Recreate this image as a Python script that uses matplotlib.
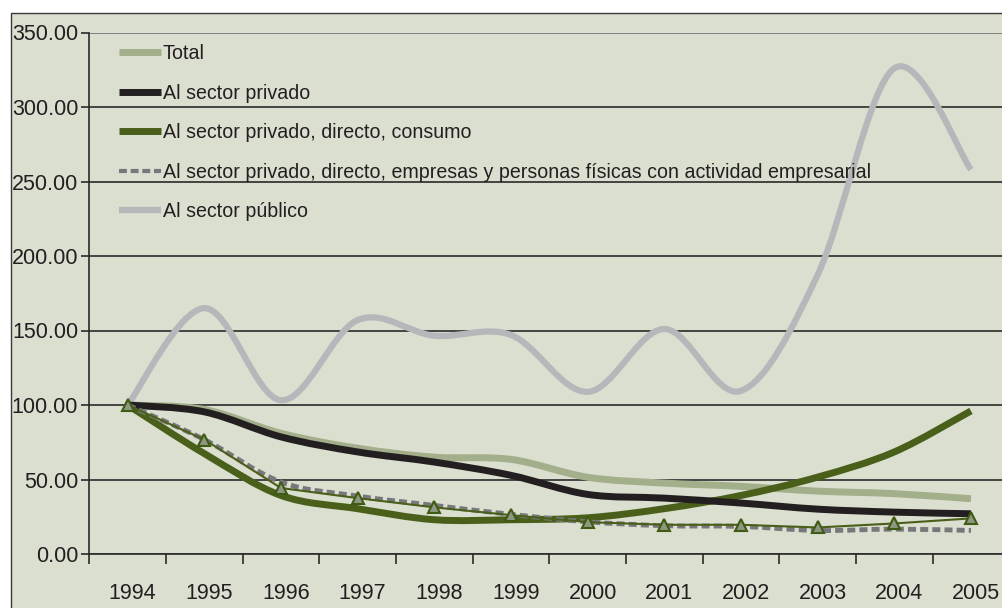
import matplotlib
matplotlib.use("Agg")
import matplotlib.pyplot as plt
import matplotlib.transforms as mtransforms
from matplotlib.path import Path
from matplotlib.patches import PathPatch, Rectangle
from matplotlib.lines import Line2D
import numpy as np

years = ["1994", "1995", "1996", "1997", "1998", "1999",
         "2000", "2001", "2002", "2003", "2004", "2005"]

total = [100, 97, 81, 71, 65, 63.5, 51.5, 47.6, 45.4, 42.2, 40.5, 37.1]
privado = [100, 95.4, 78.6, 68.5, 61.7, 52.8, 40, 37.5, 34.2, 30.1, 28.1, 27]
consumo = [100, 67.4, 39.3, 30.4, 23, 23, 24.3, 30.4, 39.3, 51.6, 68.5, 96]
empresas = [100, 76.8, 48.3, 38.9, 32.6, 26.6, 21.6, 19, 18.5, 15.8, 16.7, 15.8]
publico = [100, 165, 103.2, 157, 146.5, 147, 108.8, 151, 109.5, 187.3, 326, 258]
marcas = [100, 76.8, 44.3, 37.5, 31.3, 26.1, 21.4, 19.6, 19.6, 17.8, 20.5, 23.9]

labels = ["Total", "Al sector privado", "Al sector privado, directo, consumo",
          "Al sector privado, directo, empresas y personas físicas con actividad empresarial",
          "Al sector público"]

BG = "#dadfcf"
FONT = ["Liberation Sans", "DejaVu Sans"]


def smooth_path(xs, ys):
    # bezier curve through the points, like excel's smoothed lines
    pts = np.column_stack([xs, ys]).astype(float)
    n = len(pts)
    verts = [pts[0]]
    codes = [Path.MOVETO]
    for i in range(n - 1):
        p0 = pts[i - 1] if i > 0 else pts[i]
        p1 = pts[i]
        p2 = pts[i + 1]
        p3 = pts[i + 2] if i + 2 < n else pts[i + 1]
        c1 = p1 + (p2 - p0) / 6.0
        c2 = p2 - (p3 - p1) / 6.0
        verts += [c1, c2, p2]
        codes += [Path.CURVE4] * 3
    return Path(verts, codes)


fig = plt.figure(figsize=(10.02, 6.08), dpi=100)
fig.patch.set_facecolor("white")
frame = Rectangle((11 / 1002, -0.01), 1.0, (608 - 12.7) / 608 + 0.01,
                  transform=fig.transFigure, facecolor=BG,
                  edgecolor="#3a3a3a", linewidth=1.0, zorder=-10)
fig.add_artist(frame)

ax = fig.add_axes([89.3 / 1002, 54 / 608, 920 / 1002, 521.5 / 608])
ax.set_facecolor(BG)
x = np.arange(len(years))

dash = (0, (1.65, 0.85))
series = [
    (total, "#a3ae8a", 5.0, "-"),
    (privado, "#231f20", 5.0, "-"),
    (consumo, "#4a5f1a", 5.0, "-"),
    (empresas, "#77787c", 3.5, dash),
    (publico, "#b6b7bb", 4.5, "-"),
]
zorders = [3, 4, 3, 5, 3]
for (vals, col, lw, ls), z in zip(series, zorders):
    ax.add_patch(PathPatch(smooth_path(x, vals), fill=False, edgecolor=col,
                           linewidth=lw, linestyle=ls, capstyle="butt",
                           joinstyle="round", zorder=z))

ax.plot(x, marcas, color="#4a5f1a", linewidth=1.5, marker="^", markersize=9,
        markerfacecolor="#8d9784", markeredgecolor="#3f5a12",
        markeredgewidth=1.5, zorder=6)

ax.set_xlim(-0.5, 11.5)
ax.set_ylim(0, 350)
ax.set_yticks(np.arange(0, 351, 50))
ax.set_yticklabels([f"{v:.2f}" for v in np.arange(0, 351, 50)])
ax.set_xticks(x)
ax.set_xticklabels(years)
ax.set_xticks(np.arange(-0.5, 12, 1), minor=True)
ax.tick_params(axis="x", which="major", length=0, pad=21)
ax.tick_params(axis="x", which="minor", length=7, width=1.2, color="#2a2a2a")
ax.tick_params(axis="y", length=6, width=1.2, color="#2a2a2a", pad=2)
shift = mtransforms.ScaledTranslation(5 / 100, 0, fig.dpi_scale_trans)
for lab in ax.get_xticklabels():
    lab.set_transform(lab.get_transform() + shift)
for lab in ax.get_xticklabels() + ax.get_yticklabels():
    lab.set_family(FONT)
    lab.set_fontsize(15.5)
    lab.set_color("#231f20")

ax.yaxis.grid(True, color="#2a2a2a", linewidth=1.2)
ax.get_ygridlines()[-1].set_color("#6e7073")
ax.set_axisbelow(True)
for s in ["top", "right"]:
    ax.spines[s].set_visible(False)
ax.spines["left"].set_color("#2a2a2a")
ax.spines["left"].set_linewidth(1.2)
ax.spines["bottom"].set_color("#2a2a2a")
ax.spines["bottom"].set_linewidth(1.2)

handles = [Line2D([], [], color=c, linewidth=lw, linestyle=ls,
                  solid_capstyle="butt", dash_capstyle="butt")
           for (_, c, lw, ls) in series]
handles[3] = Line2D([], [], color="#77787c", linewidth=3.0,
                    linestyle=(0, (1.9, 0.9)), dash_capstyle="butt")
leg = ax.legend(handles, labels, loc="upper left", bbox_to_anchor=(0.0234, 0.993),
                frameon=False, handlelength=2.15, handletextpad=0.1,
                labelspacing=1.05, borderaxespad=0.0,
                prop={"family": FONT, "size": 14.1})
for t in leg.get_texts():
    t.set_color("#231f20")

fig.savefig("out.png", dpi=100, facecolor=fig.get_facecolor())
